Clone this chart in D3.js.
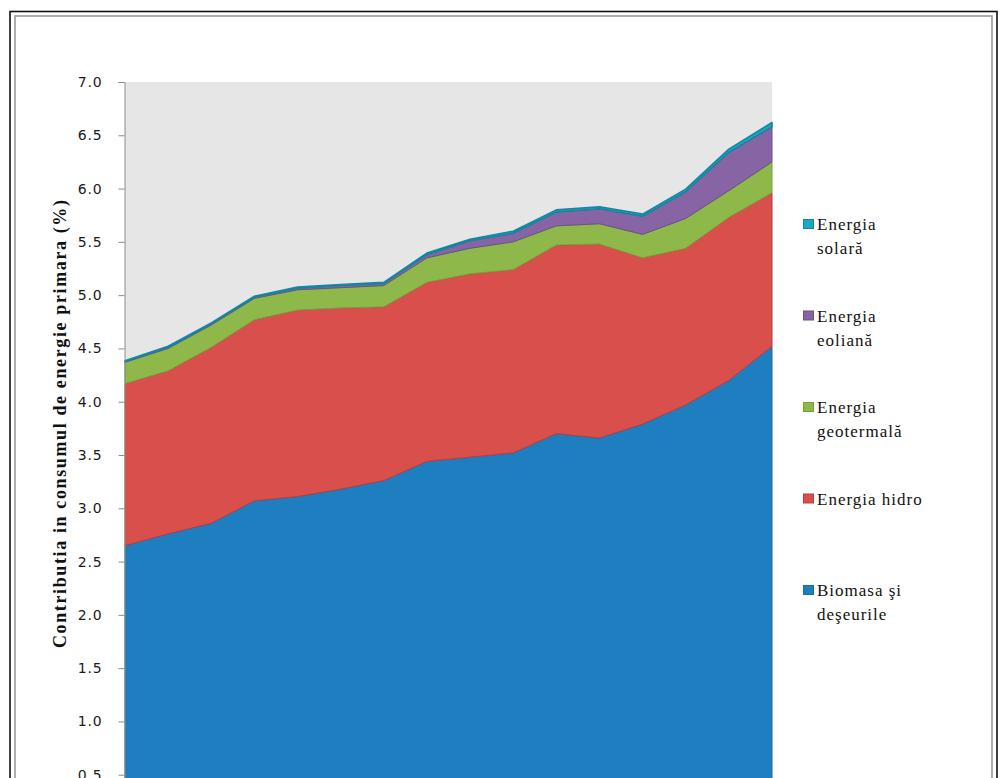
<!DOCTYPE html>
<html>
<head>
<meta charset="utf-8">
<script src="https://cdn.jsdelivr.net/npm/d3@7"></script>
<style>
  html, body { margin: 0; padding: 0; background: #fff; overflow: hidden; }
</style>
</head>
<body>
<div id="chart"></div>
<script>
// Years (categories, not labelled on the chart)
const years = d3.range(1990, 2006);

// Series values, % of primary energy consumption
const biomasa = [2.65, 2.76, 2.86, 3.07, 3.11, 3.18, 3.26, 3.44, 3.48, 3.52, 3.70, 3.66, 3.79, 3.97, 4.20, 4.52];
const hidro   = [1.52, 1.53, 1.65, 1.70, 1.75, 1.70, 1.63, 1.68, 1.72, 1.72, 1.77, 1.82, 1.56, 1.47, 1.53, 1.44];
const geoterm = [0.20, 0.21, 0.21, 0.20, 0.19, 0.19, 0.20, 0.23, 0.24, 0.26, 0.18, 0.19, 0.22, 0.28, 0.25, 0.29];
const eolian  = [0.005, 0.01, 0.01, 0.01, 0.015, 0.02, 0.02, 0.03, 0.07, 0.08, 0.13, 0.14, 0.17, 0.25, 0.36, 0.33];
const solar   = [0.01, 0.01, 0.01, 0.01, 0.01, 0.01, 0.01, 0.015, 0.015, 0.02, 0.02, 0.02, 0.02, 0.025, 0.03, 0.04];

const yTicks = d3.range(0.5, 7.01, 0.5);

// stacking order: bottom to top
const keys = ["biomasa", "hidro", "geoterm", "eolian", "solar"];
const fills   = { biomasa: "#1f7ebf", hidro: "#d94f4b", geoterm: "#8fb84b", eolian: "#8765a4", solar: "#1ba7c6" };
const strokes = { biomasa: "#1c6aa2", hidro: "#b53f3b", geoterm: "#77a03a", eolian: "#6c4f8c", solar: "#15869f" };

// legend, top to bottom (each entry can wrap on two lines)
const legendItems = [
  { key: "solar",   lines: ["Energia", "solară"] },
  { key: "eolian",  lines: ["Energia", "eoliană"] },
  { key: "geoterm", lines: ["Energia", "geotermală"] },
  { key: "hidro",   lines: ["Energia hidro"] },
  { key: "biomasa", lines: ["Biomasa şi", "deşeurile"] }
];

const table = years.map((y, i) => ({
  year: y,
  biomasa: biomasa[i], hidro: hidro[i], geoterm: geoterm[i], eolian: eolian[i], solar: solar[i]
}));

const W = 1002, H = 860;
const plot = { left: 125, right: 772, top: 82, bottom: 828 };

const svg = d3.select("#chart").append("svg")
  .attr("width", W)
  .attr("height", H)
  .style("display", "block");

// outer frame (double line)
svg.append("rect")
  .attr("x", 10).attr("y", 11.5).attr("width", 987).attr("height", 840)
  .attr("fill", "none").attr("stroke", "#111").attr("stroke-width", 1.6);
svg.append("rect")
  .attr("x", 15).attr("y", 16).attr("width", 977).attr("height", 830)
  .attr("fill", "none").attr("stroke", "#999").attr("stroke-width", 1.6);

const x = d3.scalePoint().domain(years).range([plot.left, plot.right]);
const y = d3.scaleLinear().domain([0, 7]).range([plot.bottom, plot.top]);

// plot background
svg.append("rect")
  .attr("x", plot.left).attr("y", plot.top)
  .attr("width", plot.right - plot.left).attr("height", plot.bottom - plot.top)
  .attr("fill", "#e6e6e6");

const series = d3.stack().keys(keys)(table);

const area = d3.area()
  .x(d => x(d.data.year))
  .y0(d => y(d[0]))
  .y1(d => y(d[1]));

svg.append("g").selectAll("path")
  .data(series)
  .join("path")
    .attr("d", area)
    .attr("fill", d => fills[d.key])
    .attr("stroke", d => strokes[d.key])
    .attr("stroke-width", d => d.key === "solar" ? 1.6 : 1)
    .attr("stroke-linejoin", "round");

// y axis
const yAxis = d3.axisLeft(y)
  .tickValues(yTicks)
  .tickFormat(d3.format(".1f"))
  .tickSize(6)
  .tickPadding(16);

const gy = svg.append("g")
  .attr("transform", `translate(${plot.left - 0.5},0)`)
  .call(yAxis);
gy.select(".domain").attr("stroke", "#8c8c8c");
gy.selectAll(".tick line").attr("stroke", "#8c8c8c");
gy.selectAll(".tick text")
  .attr("fill", "#1a1a1a")
  .style("font-family", "'DejaVu Sans', sans-serif")
  .style("font-size", "14px")
  .style("letter-spacing", "0.8px");

// y axis title
svg.append("text")
  .attr("transform", "translate(66,424) rotate(-90)")
  .attr("text-anchor", "middle")
  .attr("textLength", 448)
  .attr("lengthAdjust", "spacing")
  .style("font-family", "'Liberation Serif', 'Times New Roman', serif")
  .style("font-weight", "bold")
  .style("font-size", "18px")
  .attr("fill", "#111")
  .text("Contributia in consumul de energie primara (%)");

// legend
const legend = svg.append("g").attr("transform", "translate(803,0)");
const legendTop = 224, legendStep = 91.5;

legendItems.forEach((item, i) => {
  const cy = legendTop + i * legendStep;
  const row = legend.append("g").attr("transform", `translate(0,${cy})`);
  row.append("rect")
    .attr("x", 0.5).attr("y", -4.5)
    .attr("width", 10).attr("height", 9)
    .attr("fill", fills[item.key])
    .attr("stroke", strokes[item.key])
    .attr("stroke-width", 1);
  item.lines.forEach((ln, j) => {
    row.append("text")
      .attr("x", 14)
      .attr("y", j * 24 + 6)
      .style("font-family", "'Liberation Serif', 'Times New Roman', serif")
      .style("font-size", "17px")
      .style("letter-spacing", "1px")
      .attr("fill", "#111")
      .text(ln);
  });
});
</script>
</body>
</html>
